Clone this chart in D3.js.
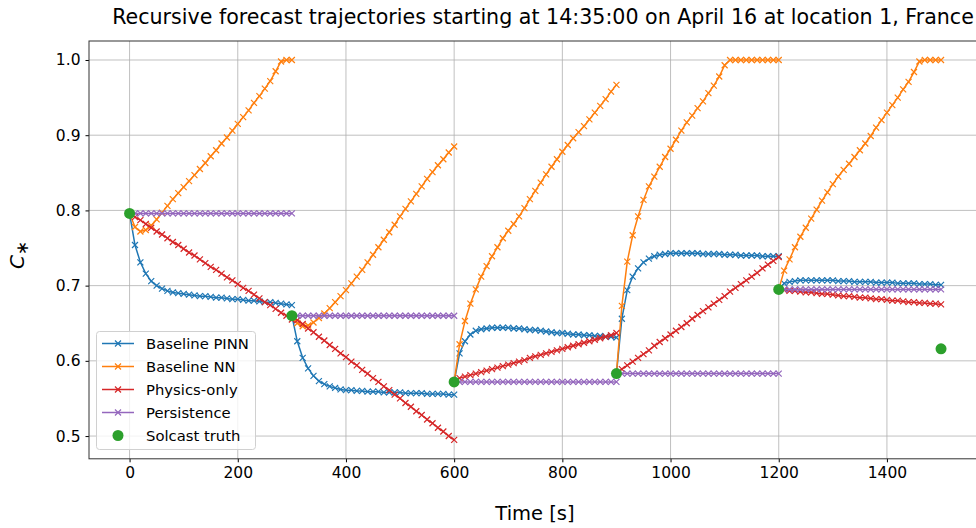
<!DOCTYPE html>
<html>
<head>
<meta charset="utf-8">
<script src="https://cdn.jsdelivr.net/npm/d3@7"></script>
<style>
  body { margin: 0; background: #fff; }
  svg { display: block; font-family: "DejaVu Sans", sans-serif; }
</style>
</head>
<body>
<div id="chart"></div>
<script>
// each trajectory: 31 points, one every 10 s, from its start time
const segStarts = [0, 300, 600, 900, 1200];
const stepSec = 10;

const pinnVals = [
  [0.796,0.754,0.731,0.716,0.706,0.700,0.696,0.693,0.691,0.690,0.689,0.688,0.687,0.686,0.686,0.685,0.684,0.684,0.683,0.682,0.682,0.681,0.680,0.680,0.679,0.678,0.678,0.677,0.676,0.675,0.674],
  [0.660,0.626,0.604,0.590,0.580,0.573,0.569,0.566,0.564,0.562,0.561,0.561,0.560,0.560,0.559,0.559,0.559,0.558,0.558,0.558,0.558,0.557,0.557,0.557,0.557,0.556,0.556,0.556,0.556,0.555,0.555],
  [0.572,0.610,0.626,0.635,0.640,0.642,0.643,0.644,0.644,0.644,0.644,0.643,0.643,0.642,0.641,0.641,0.640,0.639,0.638,0.637,0.637,0.636,0.635,0.635,0.634,0.634,0.633,0.633,0.632,0.632,0.631],
  [0.583,0.656,0.694,0.712,0.723,0.731,0.736,0.739,0.741,0.742,0.743,0.743,0.743,0.743,0.743,0.743,0.742,0.742,0.742,0.742,0.741,0.741,0.741,0.740,0.740,0.740,0.740,0.739,0.739,0.739,0.739],
  [0.695,0.703,0.705,0.706,0.707,0.707,0.707,0.707,0.707,0.707,0.707,0.706,0.706,0.706,0.705,0.705,0.705,0.705,0.704,0.704,0.704,0.704,0.703,0.703,0.703,0.703,0.702,0.702,0.702,0.701,0.701]
];

const nnVals = [
  [0.796,0.778,0.772,0.774,0.780,0.788,0.797,0.806,0.815,0.823,0.831,0.839,0.847,0.855,0.863,0.872,0.880,0.889,0.897,0.906,0.915,0.924,0.933,0.943,0.952,0.962,0.972,0.985,0.998,1.000,1.000],
  [0.660,0.650,0.646,0.647,0.651,0.657,0.663,0.670,0.678,0.686,0.694,0.703,0.712,0.721,0.731,0.741,0.751,0.761,0.771,0.781,0.792,0.802,0.812,0.822,0.832,0.842,0.851,0.860,0.868,0.877,0.885],
  [0.572,0.622,0.653,0.676,0.695,0.712,0.726,0.739,0.751,0.763,0.773,0.782,0.792,0.803,0.815,0.826,0.837,0.848,0.858,0.868,0.878,0.887,0.896,0.904,0.912,0.921,0.930,0.939,0.948,0.958,0.967],
  [0.583,0.673,0.732,0.767,0.792,0.814,0.832,0.845,0.858,0.871,0.882,0.894,0.906,0.917,0.926,0.936,0.945,0.956,0.966,0.978,0.993,1.000,1.000,1.000,1.000,1.000,1.000,1.000,1.000,1.000,1.000],
  [0.695,0.720,0.735,0.751,0.765,0.777,0.789,0.801,0.813,0.824,0.835,0.845,0.854,0.862,0.871,0.880,0.889,0.899,0.910,0.920,0.930,0.940,0.950,0.961,0.971,0.984,0.998,1.000,1.000,1.000,1.000]
];

const physVals = [
  [0.796,0.791,0.787,0.782,0.777,0.772,0.768,0.763,0.758,0.754,0.749,0.744,0.740,0.735,0.730,0.725,0.721,0.716,0.711,0.707,0.702,0.697,0.693,0.688,0.683,0.678,0.674,0.669,0.664,0.660,0.655],
  [0.660,0.654,0.649,0.643,0.638,0.632,0.627,0.621,0.616,0.610,0.605,0.599,0.594,0.588,0.583,0.577,0.572,0.566,0.561,0.555,0.550,0.544,0.539,0.533,0.528,0.522,0.517,0.511,0.506,0.500,0.495],
  [0.572,0.577,0.579,0.581,0.583,0.585,0.587,0.589,0.591,0.593,0.595,0.597,0.599,0.601,0.604,0.606,0.608,0.610,0.612,0.614,0.616,0.618,0.620,0.622,0.624,0.626,0.628,0.630,0.632,0.634,0.637],
  [0.583,0.589,0.594,0.599,0.604,0.609,0.614,0.620,0.625,0.630,0.635,0.640,0.645,0.650,0.656,0.661,0.666,0.671,0.676,0.681,0.686,0.692,0.697,0.702,0.707,0.712,0.717,0.723,0.728,0.733,0.738],
  [0.695,0.694,0.693,0.693,0.692,0.691,0.691,0.690,0.689,0.689,0.688,0.687,0.686,0.686,0.685,0.684,0.684,0.683,0.682,0.682,0.681,0.680,0.680,0.679,0.678,0.678,0.677,0.677,0.676,0.676,0.675]
];

const persVals = [
  [0.796,0.796,0.796,0.796,0.796,0.796,0.796,0.796,0.796,0.796,0.796,0.796,0.796,0.796,0.796,0.796,0.796,0.796,0.796,0.796,0.796,0.796,0.796,0.796,0.796,0.796,0.796,0.796,0.796,0.796,0.796],
  [0.660,0.660,0.660,0.660,0.660,0.660,0.660,0.660,0.660,0.660,0.660,0.660,0.660,0.660,0.660,0.660,0.660,0.660,0.660,0.660,0.660,0.660,0.660,0.660,0.660,0.660,0.660,0.660,0.660,0.660,0.660],
  [0.572,0.572,0.572,0.572,0.572,0.572,0.572,0.572,0.572,0.572,0.572,0.572,0.572,0.572,0.572,0.572,0.572,0.572,0.572,0.572,0.572,0.572,0.572,0.572,0.572,0.572,0.572,0.572,0.572,0.572,0.572],
  [0.583,0.583,0.583,0.583,0.583,0.583,0.583,0.583,0.583,0.583,0.583,0.583,0.583,0.583,0.583,0.583,0.583,0.583,0.583,0.583,0.583,0.583,0.583,0.583,0.583,0.583,0.583,0.583,0.583,0.583,0.583],
  [0.695,0.695,0.695,0.695,0.695,0.695,0.695,0.695,0.695,0.695,0.695,0.695,0.695,0.695,0.695,0.695,0.695,0.695,0.695,0.695,0.695,0.695,0.695,0.695,0.695,0.695,0.695,0.695,0.695,0.695,0.695]
];

const truthTimes = [0, 300, 600, 900, 1200, 1500];
const truthVals = [0.796, 0.660, 0.572, 0.583, 0.695, 0.616];

const xTicks = [0, 200, 400, 600, 800, 1000, 1200, 1400];
const yTicks = [0.5, 0.6, 0.7, 0.8, 0.9, 1.0];

const series = [
  {name: 'Baseline PINN', color: '#1f77b4', vals: pinnVals},
  {name: 'Baseline NN', color: '#ff7f0e', vals: nnVals},
  {name: 'Physics-only', color: '#d62728', vals: physVals},
  {name: 'Persistence', color: '#9467bd', vals: persVals}
];
const truthName = 'Solcast truth';
const truthColor = '#2ca02c';

const W = 976, H = 528;
const plot = {left: 89, right: 981.6, top: 41, bottom: 458.8};

const x = d3.scaleLinear().domain([-75, 1575]).range([plot.left, plot.right]);
const y = d3.scaleLinear().domain([0.46975, 1.02525]).range([plot.bottom, plot.top]);

const svg = d3.select('#chart').append('svg')
  .attr('width', W).attr('height', H);

svg.append('defs').append('clipPath').attr('id', 'clip')
  .append('rect')
  .attr('x', plot.left).attr('y', plot.top)
  .attr('width', plot.right - plot.left).attr('height', plot.bottom - plot.top);

// grid
const grid = svg.append('g').attr('stroke', '#b0b0b0').attr('stroke-width', 0.8);
grid.selectAll('.gx').data(xTicks).enter().append('line')
  .attr('x1', d => x(d)).attr('x2', d => x(d))
  .attr('y1', plot.top).attr('y2', plot.bottom);
grid.selectAll('.gy').data(yTicks).enter().append('line')
  .attr('x1', plot.left).attr('x2', plot.right)
  .attr('y1', d => y(d)).attr('y2', d => y(d));

const dataG = svg.append('g').attr('clip-path', 'url(#clip)');
const line = d3.line().x(d => x(d[0])).y(d => y(d[1]));
const ms = 3;

function drawX(g, px, py, color) {
  g.append('path')
    .attr('d', `M${px - ms},${py - ms}L${px + ms},${py + ms}M${px - ms},${py + ms}L${px + ms},${py - ms}`)
    .attr('stroke', color).attr('stroke-width', 1.2).attr('fill', 'none');
}

series.forEach(s => {
  const g = dataG.append('g');
  s.vals.forEach((seg, si) => {
    const pts = seg.map((v, i) => [segStarts[si] + i * stepSec, v]);
    g.append('path').datum(pts)
      .attr('d', line)
      .attr('fill', 'none')
      .attr('stroke', s.color)
      .attr('stroke-width', 1.5);
    pts.forEach(p => drawX(g, x(p[0]), y(p[1]), s.color));
  });
});

dataG.selectAll('.truth').data(truthTimes).enter().append('circle')
  .attr('cx', d => x(d))
  .attr('cy', (d, i) => y(truthVals[i]))
  .attr('r', 5.5)
  .attr('fill', truthColor);

// axes
const xAxis = svg.append('g')
  .attr('transform', `translate(0,${plot.bottom})`)
  .call(d3.axisBottom(x).tickValues(xTicks).tickSize(3.5).tickPadding(5).tickFormat(d3.format('d')));
const yAxis = svg.append('g')
  .attr('transform', `translate(${plot.left},0)`)
  .call(d3.axisLeft(y).tickValues(yTicks).tickSize(3.5).tickPadding(5).tickFormat(d3.format('.1f')));
[xAxis, yAxis].forEach(a => {
  a.select('.domain').remove();
  a.selectAll('text').attr('font-family', '"DejaVu Sans", sans-serif').attr('font-size', 15.5).attr('fill', '#000');
  a.selectAll('line').attr('stroke', '#000').attr('stroke-width', 1);
});

// frame
svg.append('rect')
  .attr('x', plot.left).attr('y', plot.top)
  .attr('width', plot.right - plot.left).attr('height', plot.bottom - plot.top)
  .attr('fill', 'none').attr('stroke', '#333').attr('stroke-width', 1);

// title and labels
svg.append('text')
  .attr('x', 543).attr('y', 24)
  .attr('text-anchor', 'middle')
  .attr('font-size', 20.6)
  .text('Recursive forecast trajectories starting at 14:35:00 on April 16 at location 1, France');

svg.append('text')
  .attr('x', 535).attr('y', 520)
  .attr('text-anchor', 'middle')
  .attr('font-size', 19.5)
  .text('Time [s]');

const yl = svg.append('text')
  .attr('transform', 'translate(24,255) rotate(-90)')
  .attr('text-anchor', 'middle')
  .attr('font-size', 20);
yl.append('tspan').attr('font-style', 'italic').text('C');
yl.append('tspan').attr('dy', 4).attr('font-size', 17).text('∗');

// legend
const leg = svg.append('g');
leg.append('rect')
  .attr('x', 96.5).attr('y', 331.5).attr('width', 159).attr('height', 118)
  .attr('rx', 3).attr('fill', '#fff').attr('fill-opacity', 0.8)
  .attr('stroke', '#d0d0d0').attr('stroke-width', 1);
const rowY = i => 343.5 + i * 23;
series.forEach((s, i) => {
  const yy = rowY(i);
  leg.append('line').attr('x1', 102).attr('x2', 134).attr('y1', yy).attr('y2', yy)
    .attr('stroke', s.color).attr('stroke-width', 1.5);
  drawX(leg, 118, yy, s.color);
  leg.append('text').attr('x', 146).attr('y', yy + 5.5).attr('font-size', 14.8).text(s.name);
});
leg.append('circle').attr('cx', 118).attr('cy', rowY(4)).attr('r', 5.5).attr('fill', truthColor);
leg.append('text').attr('x', 146).attr('y', rowY(4) + 5.5).attr('font-size', 14.8).text(truthName);
</script>
</body>
</html>
